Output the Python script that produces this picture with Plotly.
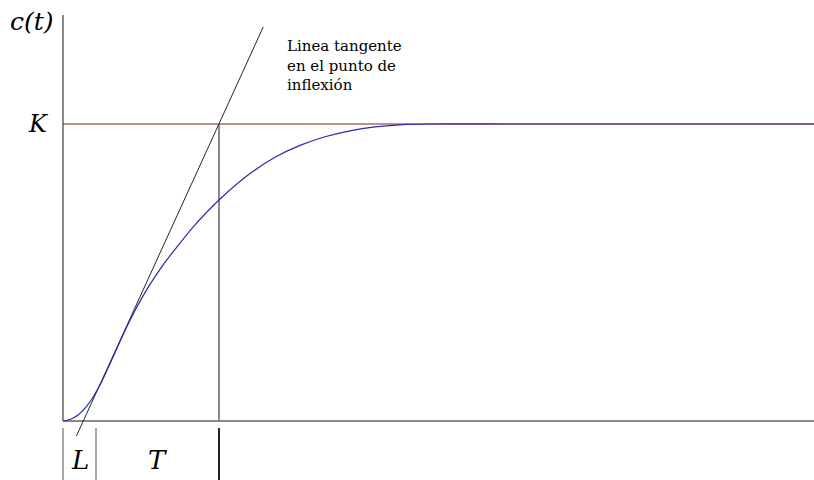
import plotly.graph_objects as go

# Step response c(t) (time in arbitrary units, c normalised to K = 1)
t = [0.0, 0.1, 0.2, 0.3, 0.4, 0.5, 0.6, 0.72, 0.853, 0.987, 1.16, 1.333, 1.52, 1.76,
     2.08, 2.493, 2.827, 3.16, 3.493, 3.827, 4.16, 4.493, 4.893, 6.0, 8.0, 10.02]
c = [0.0, 0.006, 0.02, 0.045, 0.08, 0.125, 0.178, 0.245, 0.318, 0.385, 0.46, 0.525,
     0.586, 0.66, 0.744, 0.833, 0.888, 0.928, 0.957, 0.977, 0.99, 0.997, 1.0, 1.0, 1.0, 1.0]

K = 1.0          # final value
L = 0.44         # delay marker
T_end = 2.08     # L + T, where the tangent reaches K

# Tangent at the inflection point
tangent_t = [0.18, 2.67]
tangent_c = [-0.05, 1.327]

T_MAX = 10.02
C_TOP = 1.367
TICK_LO, TICK_HI = -0.2, -0.024

SERIF = "DejaVu Serif"

fig = go.Figure()

def seg(xs, ys, color, width):
    fig.add_trace(go.Scatter(x=xs, y=ys, mode="lines", hoverinfo="skip",
                             line=dict(color=color, width=width), showlegend=False))

# axes
seg([0, 0], [0, C_TOP], "#8a8a8a", 2)
seg([0, T_MAX], [0, 0], "#8a8a8a", 2)
# final value K
seg([0, T_MAX], [K, K], "#8b1a1a", 1.2)
# vertical at L + T
seg([T_end, T_end], [0, K], "#8a8a8a", 2)
# markers under the time axis
seg([0, 0], [TICK_LO, TICK_HI], "#8a8a8a", 1.5)
seg([L, L], [TICK_LO, TICK_HI], "#8a8a8a", 1.5)
seg([T_end, T_end], [TICK_LO, TICK_HI], "#202020", 2)
# tangent line
seg(tangent_t, tangent_c, "#1e2a22", 1)
# response curve
fig.add_trace(go.Scatter(x=t, y=c, mode="lines", line_shape="spline", hoverinfo="skip",
                         line=dict(color="#2a2ab0", width=1.2), showlegend=False))

def label(x, y, text, size, xanchor="center", yanchor="middle", italic=True):
    fig.add_annotation(x=x, y=y, xref="x", yref="y", text=text, showarrow=False,
                       xanchor=xanchor, yanchor=yanchor, align="left",
                       font=dict(family=SERIF, size=size, color="black",
                                 style="italic" if italic else "normal"))

label(-0.42, 1.345, "c(t)", 25)
label(-0.33, K, "K", 24)
label(L / 2, -0.13, "L", 26)
label((L + T_end) / 2, -0.13, "T", 26)
label(2.96, 1.30, "Linea tangente<br>en el punto de<br>inflexión", 15,
      xanchor="left", yanchor="top", italic=False)

fig.update_layout(
    width=814, height=480,
    margin=dict(l=0, r=0, t=0, b=0),
    paper_bgcolor="white", plot_bgcolor="white",
    font=dict(family=SERIF),
    xaxis=dict(range=[-0.84, 10.013], visible=False),
    yaxis=dict(range=[-0.1987, 1.4175], visible=False),
)

fig.write_html("out.html")
